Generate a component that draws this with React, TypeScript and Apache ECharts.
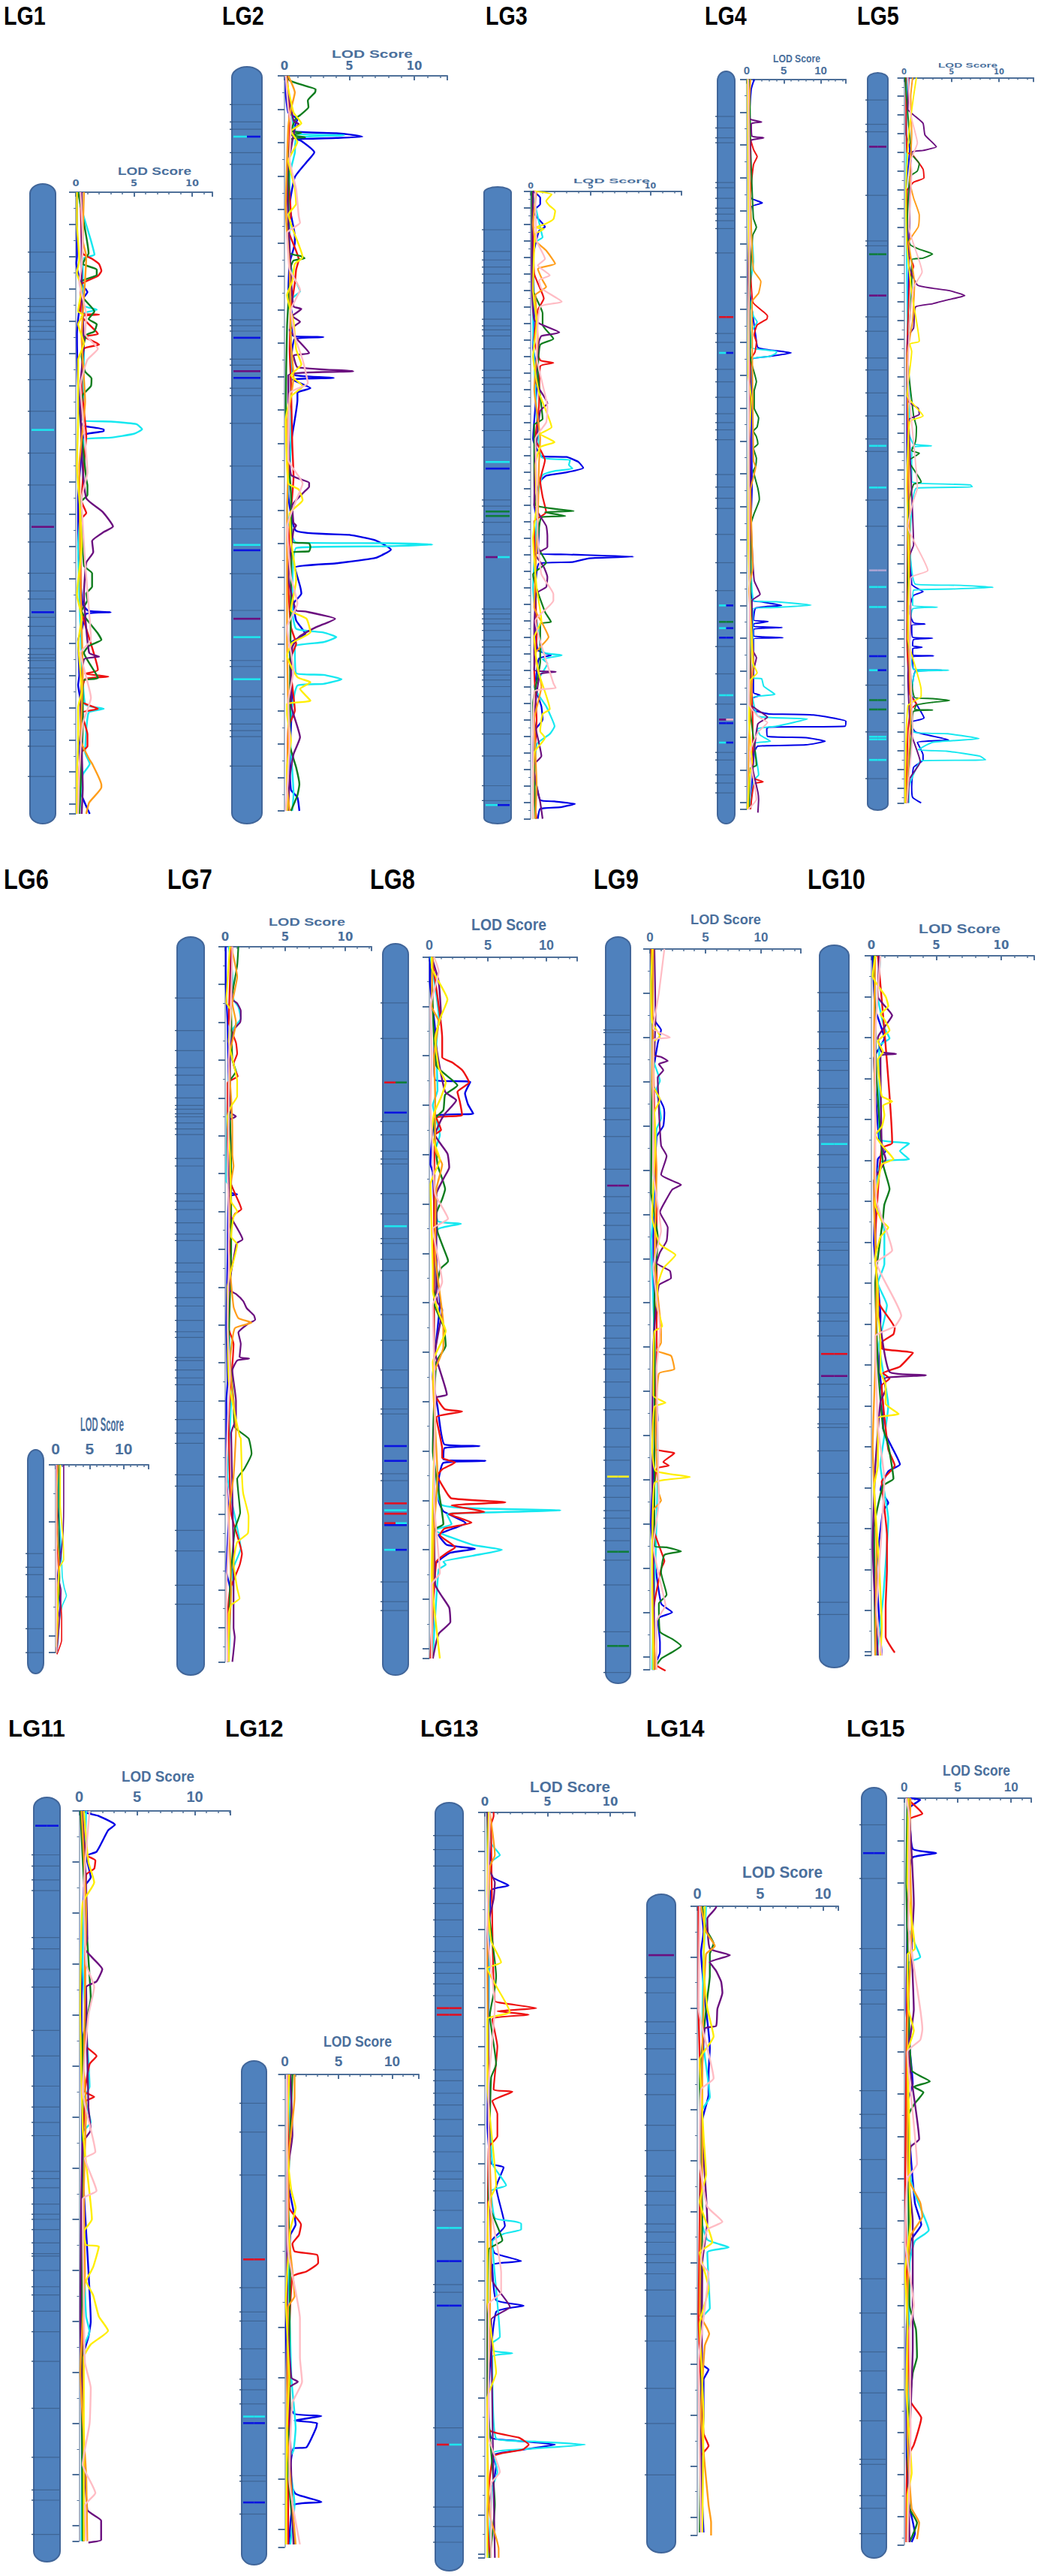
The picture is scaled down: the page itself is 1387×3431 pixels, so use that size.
import React, { useEffect, useRef } from "react";
import * as echarts from "echarts";

type P = [number, number]; // [position, LOD]
type B = [number, string, string?];

const lg1Blue: P[] = [[0,.1],[20,.1],[22,.05],[28,.4],[31,1],[34,.4],[44,.1],[60,.2],[71,.4],[72.5,.6],[73.6,2.4],[74.2,2.4],[75.4,.7],[85,.4],[95,.2],[110,.2],[128,.6],[130,1.1],[130.4,3],[130.9,.9],[136,.5],[139,.2],[150,.3],[153,.2],[162,.6],[172,.3],[187,.5],[193,1.2]];
const lg1Cyan: P[] = [[0,.3],[4,.4],[15,1.3],[19.4,1.6],[20.7,.6],[35,.6],[36.5,1.8],[37.8,.6],[50,.7],[70.8,.6],[71.2,3],[72,5.2],[73.6,5.7],[75,5],[76.2,3],[76.8,.7],[90,.6],[110,.2],[135,.4],[159,.8],[160.4,2.4],[161.6,1.1],[174,.8],[177.5,1.2],[180.8,.6],[193,.3]];
const lg1Red: P[] = [[0,.4],[19,.6],[20.7,1.4],[22.3,2],[24.4,2.2],[26,1.9],[28.6,.5],[37.6,.4],[38,2],[38.6,.5],[44,1.9],[44.8,.7],[47.3,2],[48.6,.7],[60,.5],[75.8,.9],[80,.8],[96,.5],[99.6,.9],[101.7,.4],[130,.5],[148.3,1.9],[149.5,.8],[150.4,2.8],[151.2,.8],[158,.4],[160.4,1.9],[161.6,.5],[168.3,1],[172,1],[174.2,.4],[193,.2]];
const lg1Green: P[] = [[0,.2],[5.7,.5],[19,1.1],[20.7,.8],[22.3,.6],[24,1.8],[25.7,1.8],[27.7,.5],[32,.5],[37,1.6],[39.4,1.1],[41,1.8],[43.2,1.6],[44.4,.9],[51,.5],[55.7,.8],[57.8,1.35],[60.2,1.3],[63,.6],[70,.4],[89,.9],[91,1],[94,1],[96,.5],[116,.7],[118.3,1.4],[122.5,1.4],[124.6,.9],[126.7,1],[130,.5],[137,1.9],[139,2.2],[140.8,1.15],[143,.7],[150.8,1.9],[151.7,.6],[165,.6],[193,.3]];
const lg1Purple: P[] = [[0,.5],[30,.5],[47,.7],[60,.4],[80,.5],[95,.9],[99.2,2.3],[103.8,3.2],[105.5,2.4],[108.3,1.4],[111.7,1.5],[115,.9],[125,.7],[143,1.15],[144.2,2],[145,.7],[160,.4],[185,.6],[193,.5]];
const lg1Orange: P[] = [[0,.7],[15,.6],[20,.9],[45,.5],[65,.8],[85,.3],[120,.4],[150,.6],[170,.4],[176,1.15],[177.4,1.4],[184,2.2],[184.8,2.2],[189.5,1.15],[193,.9]];
const lg1Yellow: P[] = [[0,.1],[10,.1],[21,.3],[25,.1],[30,.5],[37,.2],[38,.6],[41,.2],[47,.7],[52,.2],[70,.2],[85,.1],[100,.4],[110,.5],[125,.1],[132,.5],[140,.2],[149,.4],[155,.5],[160,.2],[172,.2],[180,.1],[193,.1]];
const lg1Pink: P[] = [[0,.4],[15,.6],[23,.5],[28,.3],[38,.9],[44,.8],[48.6,1.9],[52,1],[60,.4],[87,1],[95,.5],[115,.8],[139,1.3],[143,.4],[157,1.3],[165,.6],[180,.3],[193,.2]];

const lg2Blue: P[] = [[0,.1],[5,.1],[11,.3],[13,1],[15,.8],[16.6,.6],[17.2,4],[17.6,5.1],[18.2,6],[18.6,4],[19,.9],[19.5,1.3],[22.9,2.3],[25.4,1.8],[30.3,.8],[39,.4],[48,.8],[50,.8],[56,.4],[65,.3],[72,.6],[77.7,.6],[78.2,3],[78.7,.8],[86,.5],[89.6,.8],[90.4,3.8],[90.9,.6],[93.5,2],[94.8,1],[97,1],[110,.5],[125,.3],[136.2,.9],[137.4,5],[139,7],[141.8,8.2],[144.3,7],[145.9,4],[147.2,.8],[152.7,1.2],[155,1.3],[158,.7],[163,.9],[167,1.6],[170,.4],[185,.6],[205,.4],[213.7,.5],[216,1],[220,1.15]];
const lg2Cyan: P[] = [[0,.1],[15,.7],[17.4,1],[17.8,4.6],[18.6,.9],[23,.8],[30,.4],[55,.4],[60,.7],[64.5,1.2],[67,.5],[86,.5],[110,.5],[130,.2],[139.7,.9],[139.9,8],[140.3,11.4],[140.8,8],[141.3,.9],[160,.6],[165.5,.9],[166.6,3],[168,4],[169.5,3],[170.8,.8],[178.8,.9],[179.3,3],[180.6,4.4],[182,3],[182.5,1],[195,.4],[215,.7],[220,.6]];
const lg2Red: P[] = [[0,.2],[15,.4],[30,.3],[42,.5],[45,.2],[55,1.1],[58,.9],[62,.8],[70,.5],[82,.4],[92,.5],[110,.6],[120,.7],[135,.4],[152,.3],[165,.5],[170,.9],[175,.4],[190,.8],[195,.3],[220,.2]];
const lg2Green: P[] = [[0,.3],[1.4,.4],[3,1.6],[4,2.4],[5,2.35],[7.4,1.8],[9.4,1.85],[11.8,1.2],[12.6,.9],[16.5,.5],[17,1.3],[17.8,.5],[18.4,1.6],[19,.5],[35,.3],[53,.4],[54,1.3],[54.6,1.55],[55.3,.7],[57,.5],[75,.2],[100,.1],[125,.5],[139.5,.6],[139.9,1.9],[141,2],[142.3,1.9],[142.7,.6],[155,.5],[200,.4],[207,.9],[212,1.15],[215.3,1],[220,.5]];
const lg2Purple: P[] = [[0,.1],[13.4,.7],[14.5,1.1],[15.8,.8],[30,.2],[60,.5],[69,.7],[69.8,1.3],[71.9,.6],[73.6,1.2],[76,.4],[83,1.9],[83.7,.7],[87.2,1],[88.4,5.3],[89.6,.3],[100,.3],[119.4,.5],[121.8,1.9],[123,1.9],[124.6,1.5],[128.6,.6],[133.8,.7],[134.6,.9],[135.8,.7],[150,.3],[160,.9],[160.3,1.6],[162.5,3.9],[165.1,2.4],[168,1.1],[171,.6],[188,.5],[198,1.2],[203,.7],[210,.4],[220,.3]];
const lg2Orange: P[] = [[0,.3],[5,.8],[10,.5],[15,.3],[25,.2],[40,.1],[58,.4],[80,.5],[90,.7],[105,.2],[115,.3],[130,.2],[155,.2],[170,.2],[195,.3],[212,.2],[220,.4]];
const lg2Yellow: P[] = [[0,.1],[11,.7],[14.2,1.3],[16.6,.5],[19.8,1],[25.4,.3],[33.5,.8],[38.3,.9],[41.5,.3],[45.5,.6],[54.3,1.4],[56.3,.8],[61.6,.6],[65.6,.2],[73.6,.7],[81.8,.9],[86.4,1.3],[89.6,.5],[92.9,1.4],[96,.5],[103,.1],[122,.3],[123.8,1.1],[127,1.4],[131,.4],[139,.5],[147,.8],[151,.9],[160,.5],[162.5,1.7],[166.5,2],[169.7,.6],[173.6,.2],[180,1],[181.5,2],[183.5,1.2],[187,2],[188,.2],[191,.2],[199,.5],[207,.2],[220,.2]];
const lg2Pink: P[] = [[0,.1],[10,.3],[14,.5],[25,.4],[34,.9],[42,1.1],[44,1.2],[47,.2],[58,.4],[64,1.2],[70,.5],[78,.8],[85,1.4],[92,1.8],[95,.4],[115,.3],[122,1.4],[127,.9],[135,.2],[150,.5],[158,1],[165,.2],[178,.7],[187,.3],[200,.4],[220,.1]];

const lg3Blue: P[] = [[0,.2],[4,.8],[8,.8],[12,.2],[16.5,.6],[21.7,1.2],[24,.7],[40,.2],[75,.3],[95,.2],[110,.6],[130,.4],[150,.2],[160.5,.9],[161,3],[164,4],[167.6,4.4],[170.3,3],[172.3,1.3],[175.6,.8],[190,.3],[205,.7],[219.3,.6],[220,3],[221.3,8.6],[222.3,4.9],[224.6,3.5],[225.5,.7],[240,.4],[262,.4],[278,.6],[281,1.7],[283,.7],[300,.4],[312,.9],[320,1],[327,.3],[345,.2],[368.7,.8],[369.5,2],[371,3.7],[373,2.5],[374,.8],[380,.6]];
const lg3Cyan: P[] = [[0,.1],[25,.9],[28,1],[32,.2],[80,.2],[120,.4],[161,.9],[162.8,3.3],[165.8,3.2],[168,3.5],[169.5,2],[172,1],[185,.6],[200,.5],[240,.2],[279,1],[281,2.6],[283.4,1],[286,1.4],[300,.3],[312,1.3],[316.6,1.6],[324,2],[328.7,1.6],[335,.5],[380,.2]];
const lg3Red: P[] = [[0,.2],[50,.3],[65,1.1],[72,.6],[90,.3],[102.4,.8],[104,1.9],[106,.8],[130,.7],[150,.4],[162.8,1.2],[175,.8],[185,1],[194.4,1.3],[200,.3],[240,.4],[270,.5],[290,.3],[320,.5],[360,.2],[380,.5]];
const lg3Green: P[] = [[0,.1],[60,.2],[74,1],[81,1],[89.4,1.9],[93,.8],[110,.6],[138,1],[141.5,.3],[170,.3],[190,.4],[193.7,3.6],[194.4,1.2],[196.7,2.9],[197.5,.9],[215,.6],[225,1.3],[232,.2],[254.8,1.2],[260.8,1.7],[262,.8],[285,.8],[310,.2],[380,.4]];
const lg3Purple: P[] = [[0,.2],[40,.1],[78,.3],[85.6,2.4],[87.7,.9],[91,.7],[115,.4],[128.5,1.4],[133,.8],[160,.4],[190,.3],[202.7,1.3],[208.8,1.4],[215.5,1.4],[220,.4],[227.6,1.1],[233.6,1.4],[239.7,1.3],[243.5,.5],[265,.3],[290,.3],[291,2.1],[292.5,.8],[320,.3],[342,.9],[348,.2],[370,.8],[380,1]];
const lg3Orange: P[] = [[0,.5],[20,.2],[30,.4],[36,1.3],[44,2.05],[47,.6],[54,1],[58,1.3],[63,.4],[90,.6],[120,.3],[150,.8],[165,.7],[200,.6],[230,.4],[252,.3],[262,1],[270,1.5],[280,.4],[300,.9],[320,.3],[360,.5],[380,.4]];
const lg3Yellow: P[] = [[0,.3],[2,1.75],[6,1.3],[9,1.6],[12,2.05],[17,1.9],[20,1.2],[22,.4],[23,1.1],[26,.4],[60,.2],[80,.5],[100,.2],[122,.7],[143,1.75],[147,.8],[152,2],[155,.8],[166,.4],[190,.5],[210,.2],[240,.5],[260,.9],[270,.3],[290,.6],[313.6,1.6],[316.6,1],[327,.8],[331,1.2],[340,.3],[380,.2]];
const lg3Pink: P[] = [[0,.4],[30,.5],[41,1.2],[45,.6],[51,1.6],[54,.7],[59,.9],[67,2.6],[70,.8],[100,.5],[131,1.4],[140,1.3],[150,.4],[175,.5],[210,.6],[232,.9],[244,1.9],[248,1.9],[260,.4],[298,1.9],[300.8,2.1],[303,.3],[380,.2]];

const lg4Blue: P[] = [[0,1],[3,.6],[13,.3],[33,.3],[36.2,.6],[37.6,2.1],[38.8,.6],[60,.2],[78,1.2],[81.6,1.5],[82.3,3],[83.2,6],[84.3,3],[85.3,.6],[124.4,.7],[150,.3],[158.5,.8],[158.9,2],[160,4.7],[160.8,1.2],[164.4,.9],[164.9,2.9],[165.6,.9],[166.4,.9],[166.7,4.8],[167.2,.9],[169.3,.9],[169.8,4.9],[170.2,.9],[186.5,.9],[187.3,1.8],[188.5,.5],[191.8,.9],[192.8,2.5],[193,3],[193.3,9],[195.2,13.4],[196.7,13.3],[197,3],[197.5,2.7],[199.8,2.8],[200.2,8],[201.3,10.6],[202.4,8],[202.8,1.5],[204.7,1],[222,.5]];
const lg4Cyan: P[] = [[0,.1],[45.8,.6],[51,.8],[55.4,.9],[65,.3],[72,.9],[73.8,1.4],[76.4,.7],[81.6,.6],[82.7,4],[83.2,4],[84.3,3],[85.1,.7],[110,.4],[158.5,.9],[158.9,4],[159.9,8.7],[160.6,4],[161,.8],[182,.8],[182.3,2],[184.6,2.3],[187,3.8],[188,.8],[193.7,1.5],[194.5,8.2],[196.7,4],[197.5,1.4],[199.4,1.8],[201.3,3.2],[202,1],[211.5,1.6],[213,1],[222,.4]];
const lg4Red: P[] = [[0,.3],[15,.2],[21.3,.9],[23.5,1.4],[26,.9],[40,.3],[67.7,.8],[72,2.8],[72.9,2.7],[74.7,1.4],[77.7,1],[80,1.3],[83,1.1],[85.3,.5],[120,.4],[170,.4],[195,.8],[212.3,.8],[213.6,2.2],[214.2,1],[222,.5]];
const lg4Green: P[] = [[0,.4],[20,.5],[42.3,.9],[45,1.3],[47.5,.8],[65,.4],[85,.5],[92,1.3],[94.8,1],[100,1],[103,1.6],[105.7,1.4],[107,.9],[108.7,1.3],[110.9,1.5],[112.2,.9],[115.3,1.3],[117.6,1.2],[119,.9],[124.4,1.5],[127.8,1.7],[132,1],[135,.6],[190,.4],[208.6,1.3],[209.5,.5],[222,.3]];
const lg4Purple: P[] = [[0,.2],[12,.4],[13,2],[13.5,.6],[17.3,.7],[17.8,2.3],[18.5,.6],[20.5,.5],[60,.2],[135.8,.6],[152.4,1],[156.6,1.8],[158.5,.7],[164.6,.7],[173.6,.8],[175.9,1.3],[179.7,.9],[190,.5],[194,2.8],[196,1.5],[204,1],[207,.6],[216.8,1.5],[219,1.6],[223,1.5]];
const lg4Orange: P[] = [[0,.5],[10,.3],[30,.4],[58,.9],[61.5,1.9],[65,1.6],[67.7,.7],[116,.9],[118,1.2],[120,1],[125,.5],[148.6,.8],[155,.3],[177.4,.9],[180,.8],[200,.3],[222,.2]];
const lg4Yellow: P[] = [[0,.1],[30,.2],[60,.3],[90,.2],[97,.6],[110,.3],[140,.2],[177.4,.8],[180.5,1.4],[182.7,.5],[195,.3],[207.7,.7],[211.5,.4],[222,.1]];
const lg4Pink: P[] = [[0,.2],[45,.4],[70,.3],[120,.3],[160,.4],[190,.3],[193.7,1.5],[195.6,2.8],[198.6,1.5],[205,.4],[219,1.3],[222,.2]];

const lg5Blue: P[] = [[0,.4],[30,.2],[38,.6],[60,.2],[100,.5],[150,.3],[200,.3],[271,.8],[273,1.3],[275,2],[277,1],[285,.5],[291.6,1],[292.3,2.2],[293,.8],[299.4,.9],[299.9,3],[300.6,1],[304,.9],[304.7,1.9],[305.5,.9],[309,.9],[309.3,3.1],[310,.9],[316.5,1],[317,4],[317.6,1.2],[330,.8],[342.5,2.1],[345,.6],[350,1.2],[354.3,4.7],[355.6,1.4],[362.3,2],[365,2],[369,1],[379.6,.8],[385,.9],[388,1.8]];
const lg5Cyan: P[] = [[0,.3],[60,.2],[150,.4],[170,.6],[190,.5],[196,1],[197,2.9],[198,.8],[216,.8],[217,1.5],[217.9,7],[219,7.2],[219.6,1.3],[250,.6],[271,1.2],[271.6,6],[272.7,9.4],[273.6,5],[274.2,1],[282.3,.9],[283.3,3.5],[284.2,.9],[300,.6],[316.5,1],[317,4.7],[318,1.2],[330,.8],[350,1],[351,4.6],[353.6,7.9],[355.6,3],[359.6,1.5],[360.3,4.5],[363,8],[365,8.6],[365.4,1.8],[370.3,1.2],[380,.5],[388,.5]];
const lg5Red: P[] = [[0,.2],[40,.3],[41.4,.9],[49,2],[53.7,2.1],[56,1],[60.6,.3],[80,.3],[93.6,.4],[101,1],[107,.6],[150,.3],[200,.4],[300,.3],[330,.6],[335,1.3],[338,.7],[350,.4],[388,.2]];
const lg5Green: P[] = [[0,.1],[41,.8],[46,1.6],[50,1.4],[53,.6],[85,.3],[89.7,.7],[92,1.7],[94.4,3],[96.6,2],[97.4,.8],[110,.8],[150,.4],[181,1],[187,1.3],[194.8,1.2],[199.6,.8],[201,1.6],[205,.5],[216.3,1.8],[217.6,1],[230,.4],[300,.4],[331.6,1.1],[332.2,3],[333.2,4.8],[334.2,3],[335.6,1.3],[338,1.1],[338.3,3],[339,1],[351.6,.8],[356.9,.7],[388,.2]];
const lg5Purple: P[] = [[0,.5],[17,.4],[20,1],[24.5,2],[30.7,2.2],[34.8,3],[37,3.4],[39,2],[40,.8],[70,.6],[100,.5],[111,1.4],[112.7,3],[114,4.8],[116.6,6.4],[119,4.5],[121,3],[122.7,1.2],[134,1],[138.6,.4],[173,.4],[177,1.5],[180.2,1.6],[183,.5],[250,1],[255.6,.6],[290,.7],[320,.4],[350,.7],[366,1.7],[375,.6],[388,.4]];
const lg5Orange: P[] = [[0,.9],[10,.7],[30,.8],[55,.6],[64.4,1],[73.6,1.6],[79.8,1.5],[84.4,.9],[88,.5],[110,1.1],[130,.9],[150,.3],[200,.5],[250,.6],[290,.4],[340,.7],[388,.2]];
const lg5Yellow: P[] = [[0,1.3],[10,1],[30,.5],[60,.2],[90,.3],[115,.8],[141,1.6],[142.5,.6],[146.5,.8],[170,.3],[181,2],[184,.6],[220,.3],[270,.5],[300,.4],[327.6,1.8],[331,1.8],[336,.4],[388,.1]];
const lg5Pink: P[] = [[0,.4],[20,.7],[35,1.4],[44.5,.7],[50,.8],[80,.5],[104,1.9],[112,1],[130,.6],[160,.4],[219.6,1.4],[226,1],[240,.4],[263.6,2.5],[267.6,.7],[300,.6],[350,.9],[375,.5],[388,.3]];

const lg6Blue: P[] = [[0,.1],[2,.1],[15,.7],[19.7,.3],[24.7,.7],[27,.4],[33,.1]];
const lg6Cyan: P[] = [[0,.3],[7,.4],[12,.7],[17,.9],[19.7,1],[21.7,1.3],[23,1.6],[24.7,1],[27,.6],[30,.4],[33,.2]];
const lg6Red: P[] = [[0,.2],[14.6,.3],[19.7,.5],[27,.9],[30.8,.9],[33.3,.2]];
const lg6Green: P[] = [[0,.5],[12,.5],[19.7,.6],[27,.3],[33,.2]];
const lg6Purple: P[] = [[0,1.2],[7,1.2],[12,1.1],[16,.8],[19.7,.4],[22,.8],[27,.6],[33,.2]];
const lg6Orange: P[] = [[0,.4],[4.5,.2],[12,.2],[17,.5],[22,.3],[27,.4],[33,.1]];
const lg6Yellow: P[] = [[0,.7],[7,.7],[13,1.1],[16.7,1.2],[18,.6],[22,.4],[32,.1]];
const lg6Pink: P[] = [[0,.1],[22,.1],[30,.1],[33,.2]];

const lg7Blue: P[] = [[0,.05],[10,.05],[20,.2],[40,.3],[55,.5],[60,.2],[65,.5],[65.5,1],[66,.3],[82,.2],[100,.1],[115,.2],[120,.1],[140,.1],[150,.3],[165,.1],[169.6,.4],[189,.2]];
const lg7Cyan: P[] = [[0,.3],[7,.6],[14,.7],[16,1.1],[19,1.3],[22,.6],[40,.2],[62,.1],[64,.5],[90,.4],[97,.3],[120,.5],[140,.2],[152,.9],[159,1.3],[165,.6],[189,.3]];
const lg7Red: P[] = [[0,.5],[20,.3],[25.4,.9],[28.3,1],[31,.7],[32.3,.8],[34.3,1.05],[36,.2],[60,.2],[68,1.2],[69.4,1.35],[70.7,.8],[75,.3],[83,.5],[100,.2],[105,.7],[125,.3],[150,.5],[160.5,1.4],[163.5,1.2],[170,.4],[178,.2],[189,.2]];
const lg7Green: P[] = [[0,1.1],[5,1],[15,.5],[30,.6],[33,.9],[36,.3],[55,.5],[80,.5],[105,.3],[120,.7],[127,.8],[130,1.95],[134,2.2],[138,1.6],[140.7,1],[144.5,1.1],[149.6,1.25],[154,.8],[170,.4],[189,.3]];
const lg7Purple: P[] = [[0,.6],[7,.5],[14,.6],[15,1],[17,1.3],[18.5,1.3],[20,1.25],[21.7,.8],[27,.4],[44,.5],[44.9,.9],[46,.3],[70,.3],[77.4,1.45],[78.3,1],[79,.9],[90.6,.3],[91.8,.9],[93.7,1.5],[95.6,1.8],[97.5,2.4],[98.6,2.5],[99.7,1.9],[102,1.1],[105,1.3],[108.5,1.2],[108.9,2],[109.4,1],[112,.6],[120,.9],[124.7,.9],[128.6,.5],[161,.7],[180,.7],[182.5,.8],[189,.6]];
const lg7Orange: P[] = [[0,.5],[8,1],[15,.6],[20,.9],[30,.3],[40,.5],[48,.6],[55,.6],[58,.7],[62,.5],[80,.3],[95.2,.7],[98.2,1.1],[99.4,2.2],[100.9,.8],[110,.4],[128,.9],[140,.7],[150,.3],[170,.5],[189,.2]];
const lg7Yellow: P[] = [[0,.4],[14.8,.1],[17,.5],[25,.3],[35.6,1],[39.6,1],[42.2,.5],[44.9,.2],[55,.4],[67.4,.5],[70,1],[71.4,.7],[76.7,.5],[78.7,1],[90,.2],[115,.3],[129.4,1.2],[130,1.3],[140,1.4],[144.5,1.5],[150.6,1.95],[155,1.9],[157.4,1],[162.8,.7],[169.6,1],[172.3,1.2],[174,.5],[176.4,.3],[189,.3]];
const lg7Pink: P[] = [[0,.6],[15,.5],[30,.3],[45,.3],[60,.2],[70,.3],[85,.3],[100,.2],[113,.4],[127,.2],[140,.1],[155,.3],[170,.1],[189,.2]];

const lg8Blue: P[] = [[0,.05],[5,.05],[15,.5],[20,.4],[24.9,.5],[25.3,3.5],[27.6,3.05],[29.8,3.3],[31.7,3.75],[32.1,.6],[42,.1],[43.6,.3],[62,.6],[70,.9],[85,.3],[91,.7],[98.7,1.3],[99,4.3],[99.4,1.3],[101.7,1.2],[102,4.8],[102.4,1.2],[106,.8],[110,.8],[112.2,1.2],[114.6,3.1],[117,.8],[119,1.5],[119.8,3.9],[120.6,1.8],[121.8,1],[123,.5],[142,.2]];
const lg8Cyan: P[] = [[0,.1],[12,.8],[18,.6],[27,.7],[30,.3],[36,.9],[40,.4],[53.4,.7],[54,2.7],[55.2,.7],[70,.4],[100,.4],[110.8,1],[111.6,4],[112,11.2],[112.5,4],[112.8,1.5],[114.8,1.9],[116,.5],[119,3.7],[120,6.2],[121.2,3.7],[122.4,1.2],[123,1.4],[124,.8],[142,.3]];
const lg8Red: P[] = [[0,.2],[16.5,1.1],[20.3,1.1],[21.4,2],[23,2.85],[25.4,3.4],[27.3,2.4],[29.2,2.6],[32,2.8],[32.5,.6],[35,1],[36,.5],[60,.4],[88,.4],[91.5,1.3],[92,2.8],[93.2,.6],[99.6,1.1],[101.4,1.1],[102.3,2.2],[103.7,1.1],[105,.7],[108.5,1.5],[109.6,1.9],[110.4,6.5],[111,1.9],[112.3,4.7],[112.8,1.7],[114.5,3.6],[115.7,1.3],[117,.9],[119.5,2.2],[120.6,1.5],[122.4,.6],[142,.1]];
const lg8Green: P[] = [[0,.2],[22,.6],[26,2.4],[27.9,1.35],[31,1.2],[33,.4],[42,.7],[47,1.35],[49,1.1],[52,.6],[55.6,.7],[61,1.55],[61.6,1.6],[63,1],[64.7,.8],[70,.4],[75,1.25],[78.7,1.4],[82,.6],[100,.3],[114.8,1.2],[116,.4],[142,.2]];
const lg8Purple: P[] = [[0,.2],[5,.8],[12,1],[16,.5],[27.3,1.35],[29,2.3],[31.7,1.35],[33,1],[36,.5],[39.8,1.55],[42.6,1.7],[44.7,1.25],[48,.6],[67.6,.6],[69.9,.7],[71.4,1.1],[80,.5],[88.6,1.5],[89.2,.6],[100,.4],[127,.5],[131.7,1.7],[134.6,1.8],[137,.8],[142,.3]];
const lg8Orange: P[] = [[0,.3],[10,.2],[13,.8],[20,.4],[28,.5],[39,.5],[42,1.1],[47,.6],[60,.5],[74.6,1.2],[79,1.2],[85,.3],[95,.5],[105,.7],[116,.4],[130,.3],[142,.2]];
const lg8Yellow: P[] = [[0,.2],[2,.2],[8.6,1.55],[12,1],[16.5,.5],[22.4,.8],[25.4,1.4],[28.4,1],[31.7,.4],[36,.2],[41,.9],[46,.1],[55,.2],[63.5,.3],[67.6,.3],[72,.8],[75.7,1.4],[82,.3],[92,.5],[110,.3],[125,.2],[142,.9]];
const lg8Pink: P[] = [[0,.4],[2.9,.8],[10,.1],[20,.2],[30,.1],[40,.3],[48,.5],[53,1.6],[55,.3],[65.8,1.1],[70.5,.3],[90,.5],[110,.4],[124.7,.9],[127,.2],[142,.2]];

const lg9Blue: P[] = [[0,.1],[15,.2],[16.5,.5],[18.3,1],[21.3,.7],[30,.2],[35.6,1.2],[37,1.3],[40,1.2],[42.5,.6],[65,.3],[95,.4],[106.5,.7],[109,.5],[130,.1],[148,1],[150,2],[151.4,.7],[156.8,.9],[159,.9],[163,.2]];
const lg9Cyan: P[] = [[0,.1],[25,.3],[29.8,.9],[31.6,.6],[38.3,1],[40.7,.6],[63,.2],[66,.1],[80,.3],[115,.7],[138,.5],[150,.3],[163,.2]];
const lg9Red: P[] = [[0,.1],[50,.5],[60,.6],[90,.6],[113,.5],[114,2.2],[116,1.2],[116.8,1.7],[117.5,.6],[130,.2],[136.2,1],[138.4,1.3],[140.2,1],[150,.3],[161.7,.5],[163.2,1.4]];
const lg9Green: P[] = [[0,.2],[25,.2],[55,.1],[65,.7],[80,.4],[135,.4],[135.3,1.5],[136.2,2.8],[137,1.3],[141,1],[146,1.5],[148,.8],[154.4,.9],[156,2],[157.6,2.8],[159,2],[160.5,1],[163,.3]];
const lg9Purple: P[] = [[0,.4],[15,.5],[24,.4],[24.4,1],[25.3,1.6],[26,.8],[27.4,1.2],[29,.7],[44.4,1],[46.8,1.5],[51,1],[52.4,2],[53.3,2.8],[54.4,2],[56.5,1.5],[59.5,.9],[63,1.6],[66,1.5],[68.6,.9],[71,.6],[72.8,1.8],[74.4,1.9],[76,.8],[90,.3],[120,.2],[135,.3],[160,.4],[163,.4]];
const lg9Orange: P[] = [[0,.3],[30,.2],[50,.6],[70,.4],[86.5,1],[89,1],[90.8,.6],[92,1.9],[95,2.2],[96,.8],[110,.5],[123,.8],[124.7,1],[127,.3],[145,.2],[163,.5]];
const lg9Yellow: P[] = [[0,.2],[8,.1],[16.5,.2],[19.8,.9],[21,.3],[31,.3],[34,.9],[37,.4],[42.4,.5],[60.7,.2],[66.8,.9],[69.2,2.3],[72.2,1.2],[76,.7],[80.5,.6],[85.3,1.1],[86.5,.4],[101,.3],[102.6,1.4],[103.5,.4],[113,.2],[118,.5],[119.4,3.6],[120.8,.4],[140,.2],[163,.3]];
const lg9Pink: P[] = [[0,1.3],[10,.8],[18,.3],[20,1.8],[20.6,.3],[40,.3],[50.4,.3],[63.8,1],[66,.8],[72,.3],[86,.9],[95,.6],[125,.8],[135,.3],[146,1.2],[148.4,1.4],[152,.6],[163,.6]];

const lg10Blue: P[] = [[0,.1],[13,.3],[20.2,1],[25,.2],[45,.6],[47.7,1.1],[49.7,.5],[70,.2],[88,.7],[100,.6],[110,.9],[115.4,.9],[119.6,1.5],[124.3,2.2],[126,1.3],[130.5,.7],[133.7,1.3],[135.7,.9],[150,.4],[171,.8]];
const lg10Cyan: P[] = [[0,.7],[10,.5],[17.6,1],[20.2,1.4],[22,.6],[40,.6],[45,.7],[45.9,2.9],[47.7,2.2],[49.7,2.9],[50.4,.7],[60,.4],[67.4,1],[69.4,1],[75.3,1],[80,.5],[85.4,1.2],[95,.6],[110,1.3],[124.6,.7],[137.6,1.3],[157,.9],[171,.4]];
const lg10Red: P[] = [[0,.5],[45.8,1.6],[47,.8],[70,.3],[85,.6],[91,1.8],[92.5,1.7],[94.5,.8],[96,.8],[97,3.2],[97.8,3],[100.4,2.2],[102,.9],[103.3,1.4],[105,.8],[120.6,1.3],[124.6,1.8],[128.5,.8],[141.6,1.2],[150,1.2],[159,1.1],[166.4,1.1],[170.3,1.8]];
const lg10Green: P[] = [[0,.2],[30,.4],[51,.9],[57,1.4],[60.8,1],[64,.9],[80,.3],[100,.5],[115.4,.9],[119.6,1.3],[127.8,1.7],[129.5,.9],[140,.2],[171,.3]];
const lg10Purple: P[] = [[0,.6],[10,.5],[14.6,1.6],[16.6,1.2],[20,.5],[23.5,.8],[24,1.9],[24.5,.7],[46.4,.8],[49.7,1.1],[55,.2],[85,.5],[101.7,1.4],[102.5,4.2],[103.3,1],[106,1.1],[109,.7],[125,.3],[144,.1],[171,.5]];
const lg10Orange: P[] = [[0,.3],[20,.2],[40,.3],[60,.2],[80,.4],[100,.3],[120,.1],[145,.4],[171,.3]];
const lg10Yellow: P[] = [[0,.3],[5,.1],[10,1.1],[12.3,1.3],[14.3,.7],[15.6,1],[18.2,1.4],[20.9,.5],[23.5,.9],[25.4,.5],[34.3,.8],[35.6,1.6],[36.6,.9],[38.9,1],[41.8,.8],[43.8,.3],[47,1],[49.7,1.7],[51,.8],[57.6,.4],[60.8,.3],[64.8,.8],[66.4,1.3],[68.7,.7],[74,.3],[82,.5],[88,.5],[89.9,.6],[95,.7],[101.7,.7],[105,1.1],[109.5,1.1],[112,2.1],[113,.5],[124.6,.5],[129.8,.2],[144,.5],[163.8,.8],[171,.7]];
const lg10Pink: P[] = [[0,.7],[20,.3],[45,.3],[60,.4],[72,1.6],[75,.4],[88,2.3],[90.6,1.8],[93,.3],[115,.5],[128,1],[140,.8],[160,.4],[171,.8]];

const lg11Blue: P[] = [[0,.3],[.5,.8],[1,1.7],[2.7,3.1],[3.8,2.5],[8,1.5],[8.8,.6],[13,1],[15,.4],[40,.2],[70,.3],[100,1],[103,.8],[108,.2],[143,.3]];
const lg11Cyan: P[] = [[0,.6],[30,.3],[54,.9],[56,.5],[61,1],[63,.3],[85,.4],[99,.6],[102,.9],[105,.4],[143,.2]];
const lg11Red: P[] = [[0,.2],[8.6,.6],[9.7,1.4],[11.3,1.3],[12.5,.6],[45.8,.5],[48,1.5],[49.6,.9],[55,.5],[56,1.3],[57,.5],[80,.2],[143,.4]];
const lg11Green: P[] = [[0,.1],[18,.5],[29,.8],[36.6,1],[45,.3],[75,.3],[100,.2],[143,.3]];
const lg11Purple: P[] = [[0,.3],[15,.6],[25,.7],[27,.5],[31,2],[33.4,1.5],[34.5,.6],[58,.8],[62.5,1],[65,.3],[100,.1],[136.9,.7],[139,1.9],[141.2,1.9],[142.8,1.9],[143.3,.8]];
const lg11Orange: P[] = [[0,.2],[20,.6],[50,.4],[58,.6],[75,.4],[90,.5],[110,.1],[130,.6],[143,.7]];
const lg11Yellow: P[] = [[0,.4],[10,.8],[14,1.3],[18,.3],[40,.1],[62,.3],[67,.5],[80,1.1],[82.4,.4],[85,.6],[85.3,1.7],[89.4,1.2],[92.1,.6],[94.8,1.2],[99,1.7],[101.8,2.5],[104.5,1],[107,.4],[143,.4]];
const lg11Pink: P[] = [[0,.9],[15,.4],[30,.6],[34.5,1.3],[40,.8],[55,.3],[66.8,1.4],[68,.5],[74.4,1.5],[76,.3],[108,.5],[113,1],[120,.9],[128,.3],[133.6,1.4],[136,.5],[143,.6]];

const lg12Blue: P[] = [[0,.4],[20,.2],[29.7,1],[31.8,.5],[50,.1],[65,.3],[67.2,.9],[67.6,3.4],[68.5,.9],[69,3],[70,2.9],[73.8,2],[74,.8],[80,.4],[83,1],[84.6,3.4],[85.2,.8],[93,.4]];
const lg12Cyan: P[] = [[0,.5],[20,.2],[60,.6],[70,1],[74.4,.8],[76,.4],[85,.9],[93,.5]];
const lg12Red: P[] = [[0,.3],[26.4,.4],[29.7,1.5],[31.8,1.3],[33.5,.7],[35,.9],[35.7,3],[37.3,3.1],[39,2],[40,.7],[60,.3],[93,.3]];
const lg12Green: P[] = [[0,.7],[25,.3],[37,.5],[55,.4],[68,.5],[75,.2],[93,.9]];
const lg12Purple: P[] = [[0,.5],[12,.7],[20,.2],[45,.2],[60,.6],[60.8,1.2],[62,.4],[80,.6],[93,.8]];
const lg12Orange: P[] = [[0,.9],[4.6,.9],[15,.4],[30,.3],[43.9,.9],[46,.3],[70,.2],[80,.5],[93,1]];
const lg12Yellow: P[] = [[0,.4],[15,.2],[23,.6],[26.4,1],[30.8,.5],[45,.1],[60,.4],[70,.2],[93,.1]];
const lg12Pink: P[] = [[0,.2],[20,.2],[35,.3],[48.3,1.4],[56,1.4],[60.8,1.6],[65,.7],[80,.4],[93,1.4]];

const lg13Blue: P[] = [[0,.2],[10,.4],[16.6,.6],[18.8,1.9],[20,.5],[50,.3],[80,.2],[90,.5],[91,1.5],[96,.9],[106,1.6],[110,.5],[113,.8],[115,2.9],[116,.6],[125,.9],[126.4,3.1],[128,.9],[150,.3],[160.2,.5],[161,2.5],[162,5.6],[163.3,3],[164.7,.6],[167.6,.9],[180,.2],[191,.3]];
const lg13Cyan: P[] = [[0,.3],[8,.5],[11,1.2],[13,.4],[60,.3],[90,.6],[95.6,1.7],[97,.5],[104,.8],[104.8,2.3],[105.4,2.9],[106.9,2.9],[108,1.5],[110,.6],[134.4,1.2],[136,.6],[138,.7],[138.6,2.2],[139.5,.6],[160.5,.9],[161.2,4],[162,8],[163,4],[164,.7],[169,1],[173,.6],[191,.3]];
const lg13Red: P[] = [[0,.7],[1,.7],[3.2,.5],[30,.6],[48.4,.8],[49,1.6],[50.2,4.1],[51,1],[51.9,3.5],[53,.6],[60,1],[71,.7],[71.6,2.2],[74,.6],[77.3,1],[83,1],[86,.3],[150,.2],[158.4,.4],[160.2,2.7],[162,3.5],[163.3,3],[165,.7],[180,.2],[191,.4]];
const lg13Green: P[] = [[0,.2],[25,.3],[42,.9],[45,.8],[52,.4],[64.6,.9],[68,.5],[100,.3],[109.7,1.4],[112,.3],[150,.2],[177.4,.8],[191,.4]];
const lg13Purple: P[] = [[0,.2],[15,.4],[18,.8],[22.3,.7],[30,.2],[90,.4],[120,.6],[126.7,2],[130,.5],[191,.8]];
const lg13Orange: P[] = [[0,.4],[11,.8],[14,.4],[40,.2],[80,.3],[100,.5],[130,.4],[160,.2],[180,.4],[188.7,1.1],[191,1.1]];
const lg13Yellow: P[] = [[0,.3],[20,.2],[33,.5],[38.5,1.3],[40,.2],[51.2,2],[53,.2],[70,.2],[95.6,.9],[100,.3],[125,.2],[143.6,.9],[150,.2],[191,.2]];
const lg13Pink: P[] = [[0,.4],[30,.2],[50,.8],[70,.3],[100,.4],[118,1.3],[123,1.3],[126,.3],[160,.3],[169,1.2],[172,.5],[191,.5]];

const lg14Blue: P[] = [[0,.3],[5,.5],[9,.3],[18,.6],[27.8,1],[33,.9],[37,.9],[42,.4],[60,.3],[90,.4],[91,.9],[93,.5],[100,.5],[110,.3],[123,.5]];
const lg14Cyan: P[] = [[0,.7],[10,.5],[25,.4],[37.5,1],[40,.4],[60,.2],[65.5,.8],[67,2.5],[68,.8],[79,1],[81,.3],[123,.4]];
const lg14Red: P[] = [[0,.1],[20,.1],[40,.3],[80,.1],[103.5,.5],[106,.9],[108,.3],[123,.3]];
const lg14Green: P[] = [[0,.4],[4.5,.7],[7.3,1.3],[9.4,1],[13.7,1],[18,.8],[30,.3],[35,.2],[60,.4],[123,.2]];
const lg14Purple: P[] = [[0,1.5],[.2,1.5],[2.4,.8],[8.3,1],[9.6,2.6],[11,1],[12.7,1.5],[14.8,1.9],[17,2],[20.2,1.6],[23.5,1.5],[24,.6],[40,.3],[62,.8],[70,.4],[123,.3]];
const lg14Orange: P[] = [[0,.3],[5,.7],[7.8,1.4],[9.4,.7],[30,.4],[49.5,.4],[60,.3],[80,.2],[83,.8],[84,.95],[86.3,.6],[100,.3],[117.6,.9],[121,1.1],[123.6,1.1]];
const lg14Yellow: P[] = [[0,.6],[12,.5],[20,.8],[25.6,1.3],[30,.2],[45,.5],[52.7,.7],[58,.2],[66,1.2],[68,.2],[75,.9],[82,.2],[100,.5],[123,.4]];
const lg14Pink: P[] = [[0,.2],[20,.1],[33.8,1.3],[36,.3],[50,.2],[59,.8],[62,2],[63.5,.8],[70,.3],[72,.9],[90,.1],[123,.3]];

const lg15Blue: P[] = [[0,.6],[.4,1.5],[2.3,.5],[12,.8],[13,3],[14,.8],[18,.4],[50,.2],[67.6,.8],[72,.3],[95.7,1],[100.9,1.6],[104.8,.6],[130,.2],[165,.3],[174,1],[176,.7]];
const lg15Cyan: P[] = [[0,.4],[30,.3],[37.6,1.5],[39,.4],[70,.2],[90,.6],[94.4,1.1],[102.2,2.3],[104.8,1],[110,.5],[176,.3]];
const lg15Red: P[] = [[0,.2],[3.7,1.7],[5,.5],[40,.3],[90,.1],[110,.2],[142.7,.6],[146.6,1.6],[153,.9],[156,.3],[176,.2]];
const lg15Green: P[] = [[0,.3],[20,.2],[45,.4],[64.4,.7],[67,2.4],[68.3,.9],[69.6,1.8],[72.2,1],[75,.4],[120,.5],[125.7,1.1],[132.2,1.2],[136,.8],[150,.3],[168,.5],[171.4,1.2],[176,.5]];
const lg15Purple: P[] = [[0,.4],[25,.9],[35,.7],[50,.9],[60,.4],[80.7,1.4],[82.5,.6],[92,.5],[100,.8],[130,.8],[160,.4],[176,.5]];
const lg15Orange: P[] = [[0,.6],[10,.5],[30,.7],[55,.3],[75,.3],[90,.4],[95.7,1.5],[99,1.7],[103.5,.6],[120,.3],[150,.3],[168,.7],[171.4,1.4],[175.3,1.2]];
const lg15Yellow: P[] = [[0,.4],[20,.3],[35.6,1],[37,.3],[50,.4],[55,.9],[60,.3],[80,.5],[91.8,.5],[100,.6],[112,.1],[125,.3],[140,.2],[159.7,.7],[165,.3],[176,.3]];
const lg15Pink: P[] = [[0,.2],[5,.5],[30,.4],[54.6,1.7],[57.2,1.5],[60,.3],[86.6,1.2],[90,.3],[105,.1],[120,.9],[126,.5],[150,.6],[176,.3]];

const lg1Marks = [18.6,24.8,33,35.5,37.3,39.8,41.7,43.2,45.7,50.4,58.2,68,81,90.9,99.9,108.6,118.3,123.8,126.3,132,134.8,137.7,141.7,143.5,144.6,145.4,147.7,149.6,151,153.6,157.9,163,167,172,181.4];
const lg2Marks = [8.6,13.8,16,23,26.5,36.8,44,48,56,62.5,68,73,74.8,76.4,84.8,86.6,93.5,95.7,104,116.8,127,132,135.6,149,160,175,176.8,185.8,189.6,194,196,197.8,206.6];
const lg3Marks = [23.4,36.5,41.7,46,50.3,55.6,67,77.6,81.6,84,87.7,95.5,108.5,113,117,121.5,127.6,135.4,145,155,187,190.7,200.5,208,212.5,253,256,259,262,266,272,276,281,285,290,293,296,300,306,315.8,328.7,342,360,369];
const lg4Marks = [11.3,14.8,17.8,19.3,31.4,33,36.2,39.2,41,43,45.4,52.8,77.3,80,88.2,92,96.7,101.7,104.4,106.6,109.6,120.2,124,127.4,130.5,138.4,147,155.5,172.5,180.8,190,204.7,207,211.5,214,217];
const lg5Marks = [12,25,29,63,87.4,90,128,135.7,150,156.4,168.7,181,193.3,200,226,240,300,325,350,375];
const lg6Marks = [15.6,18,19.3,23.2,28.8,33];
const lg7Marks = [13.6,22.2,27.5,32,34,36.6,40,42,43,44.2,45,46.6,48.2,49.7,56,58,65.3,67.3,69.5,73,76,77.7,83.6,86,88.9,92.8,95,98.8,101.8,103.3,108.6,109.4,111.9,114,115.8,120.2,125,128.6,131.3,139.6,142.6,154.3,159.7,168.8,173.8];
const lg8Marks = [9.3,16.5,33.3,36,39.3,40.9,41.9,47.9,52,57,58,61.2,63.5,68.7,72.4,77.6,83.6,87.2,91.5,92.5,104.6,106,126.5,130.5,132.3];
const lg9Marks = [15,18.3,18.9,21.6,24.4,26,31,36,38.6,42.4,49.8,56,59.7,62.5,65.7,70.8,78.7,82.3,85.2,88,90.3,91.7,95,97.9,101.4,104.2,108.4,112.6,115.6,121.4,124,127,128.7,131,133.8,138.2,143.8,154.4,163.6];
const lg10Marks = [9,13.5,18.6,22.7,25.6,28,32.4,36.4,37,39.5,41.8,43.8,48.6,51.7,55.5,58.2,62,66.6,70,72,75.6,83.4,87.3,89.3,92.9,104.7,107.8,110.8,114.4,115.3,121,126.5,132.3,138.6,141.9,143.7,147,158,161];
const lg11Marks = [8.6,10.8,13.5,15.6,24.8,27,31,34.5,43,48,53.9,58,61,63.6,70.6,72,73.8,77,79,80,82,84.6,86.7,87.2,90,93.2,94.8,98,102,107.8,117,126.6,133,135,141.7];
const lg12Marks = [5.7,11.4,19.9,42.2,47,48.8,54.3,60.3,62.4,65.2,79.4,80.5,87];
const lg13Marks = [6,9.6,13.8,19.5,23.4,27.6,31.9,35.7,38.5,41.3,44,47,57.5,66,68.8,72,75,78.7,83,87,92,94,97,102,121,123,157.7,178,183,187];
const lg14Marks = [14,17,22.7,25,28,33,37,43,48,53,56,58.7,62.4,64,66,68.4,70,72.2,75.4,80.5,85.4,94.7,101.6,111.7];
const lg15Marks = [6.3,19,35.6,41.5,45.4,48.7,56.5,69.2,74.8,78,85.5,93.3,101.8,113.7,121.8,131,135.5,140.7,147.3,156.4,157.6,165,168,174];

const lg1Bands: B[] = [[73.8,"cyan"],[103.9,"purple"],[130.4,"blue"]];
const lg2Bands: B[] = [[18.2,"cyan","blue"],[78.4,"blue"],[88.4,"purple"],[90.4,"blue"],[140.4,"cyan"],[142,"blue"],[162.5,"purple"],[168,"cyan"],[180.6,"cyan"]];
const lg3Bands: B[] = [[164,"cyan"],[168,"blue"],[194,"green"],[196.7,"green"],[221.6,"purple","cyan"],[371.7,"cyan","blue"]];
const lg4Bands: B[] = [[72.3,"red"],[83.2,"cyan","blue"],[160,"cyan","blue"],[165,"green"],[166.9,"cyan","blue"],[169.8,"blue"],[187.3,"cyan"],[194.7,"purple","pink"],[195.8,"blue"],[201.7,"cyan","blue"]];
const lg5Bands: B[] = [[37,"purple"],[94.5,"green"],[116.6,"purple"],[197,"cyan"],[219.3,"cyan"],[263.6,"lilac"],[272.5,"cyan"],[283.2,"cyan"],[309.5,"blue"],[317,"cyan","blue"],[333,"green"],[338,"green"],[352.6,"cyan"],[354,"cyan"],[365,"cyan"]];
const lg8Bands: B[] = [[25.4,"red","green"],[31.5,"blue"],[54.5,"cyan"],[99,"blue"],[102,"blue"],[110.6,"red"],[112,"cyan"],[112.7,"red"],[114.6,"red","cyan"],[115,"blue"],[120,"cyan","blue"]];
const lg9Bands: B[] = [[53.5,"purple"],[119.3,"yellow"],[136.3,"green"],[157.6,"green"]];
const lg10Bands: B[] = [[46,"cyan"],[97.3,"red"],[102.7,"purple"]];
const lg11Bands: B[] = [[2.9,"blue"]];
const lg12Bands: B[] = [[36.6,"red"],[67.7,"cyan"],[69,"blue"],[84.7,"blue"]];
const lg13Bands: B[] = [[50.2,"red"],[51.9,"red"],[106.5,"cyan"],[115,"blue"],[126.4,"blue"],[162,"red","cyan"]];
const lg14Bands: B[] = [[9.6,"purple"]];
const lg15Bands: B[] = [[13,"blue"]];

const tickLabels = [0, 5, 10];
const seriesColors = ["#0000e6", "#16e8f0", "#ee1111", "#0f7d1e", "#6b0f7f", "#ff9e1b", "#ffee00", "#ffbcc4"];
const palette: Record<string, string> = { blue: "#0a14e0", cyan: "#1ee6ee", red: "#e01122", green: "#0f7d3a", purple: "#6b0f7f", yellow: "#ffee22", pink: "#f0b0c0", lilac: "#a9a4d4" };

const DJ = '"DejaVu Sans"', LS = '"Liberation Sans"', LN = '"Liberation Sans Narrow","Liberation Sans"';

// t: title, tx/ty: its position; b0,b1,bt,bb: chromosome box; ay,x0,ppl,end: LOD axis; tp,yMax: position axis;
// n: LOD Score caption box; lf,ls,lm: tick label font, size, gap
const panels: any[] = [
  { t: "LG1", tx: 5, ty: 21, ts: 35, tsx: .82, b0: 40, b1: 74, bt: 245, bb: 1097, ay: 256, x0: 101, ppl: 15.5, end: 283, tp: 42.9, yMax: 193, n: [157, 255, 222, 233], lf: DJ, ls: 13, lm: 6, w: 2.4, lines: [lg1Blue, lg1Cyan, lg1Red, lg1Green, lg1Purple, lg1Orange, lg1Yellow, lg1Pink], marks: lg1Marks, bands: lg1Bands },
  { t: "LG2", tx: 296, ty: 21, ts: 35, tsx: .82, b0: 309, b1: 349, bt: 89, bb: 1097, ay: 101, x0: 379, ppl: 17.3, end: 596, tp: 44.5, yMax: 220, n: [442, 550, 66, 77], lf: DJ, ls: 15, lm: 6, w: 2.4, lines: [lg2Blue, lg2Cyan, lg2Red, lg2Green, lg2Purple, lg2Orange, lg2Yellow, lg2Pink], marks: lg2Marks, bands: lg2Bands },
  { t: "LG3", tx: 647, ty: 21, ts: 35, tsx: .82, b0: 645, b1: 681, bt: 249, bb: 1097, ay: 254.5, x0: 707, ppl: 15.95, end: 908, tp: 22, yMax: 380, n: [764, 866, 237, 244], lf: DJ, ls: 11, lm: 2, w: 2.2, lines: [lg3Blue, lg3Cyan, lg3Red, lg3Green, lg3Purple, lg3Orange, lg3Yellow, lg3Pink], marks: lg3Marks, bands: lg3Bands },
  { t: "LG4", tx: 939, ty: 21, ts: 35, tsx: .82, b0: 956, b1: 979, bt: 95, bb: 1097, ay: 105.6, x0: 995, ppl: 9.85, end: 1127, tp: 43.8, yMax: 222, n: [1030, 1093, 72, 83], lf: LN, ls: 15, lm: 5, w: 2, lines: [lg4Blue, lg4Cyan, lg4Red, lg4Green, lg4Purple, lg4Orange, lg4Yellow, lg4Pink], marks: lg4Marks, bands: lg4Bands },
  { t: "LG5", tx: 1142, ty: 21, ts: 35, tsx: .82, b0: 1156, b1: 1183, bt: 97, bb: 1079, ay: 103.3, x0: 1204.6, ppl: 12.63, end: 1377, tp: 24.9, yMax: 388, n: [1250, 1329, 84, 90], lf: DJ, ls: 10, lm: 3, w: 1.9, lines: [lg5Blue, lg5Cyan, lg5Red, lg5Green, lg5Purple, lg5Orange, lg5Yellow, lg5Pink], marks: lg5Marks, bands: lg5Bands },
  { t: "LG6", tx: 5, ty: 1171, ts: 37, tsx: .83, b0: 37, b1: 58, bt: 1931, bb: 2229, ay: 1951, x0: 74, ppl: 9.07, end: 198, tp: 75.8, yMax: 33, n: [107, 165, 1888, 1906], lf: LN, ls: 21, lm: 11, w: 1.6, lines: [lg6Blue, lg6Cyan, lg6Red, lg6Green, lg6Purple, lg6Orange, lg6Yellow, lg6Pink], marks: lg6Marks, bands: [] },
  { t: "LG7", tx: 223, ty: 1171, ts: 37, tsx: .83, b0: 236, b1: 272, bt: 1248, bb: 2231, ay: 1260.7, x0: 300, ppl: 16, end: 495, tp: 50.4, yMax: 189, n: [358, 460, 1222, 1233], lf: DJ, ls: 15, lm: 5, w: 2.2, lines: [lg7Blue, lg7Cyan, lg7Red, lg7Green, lg7Purple, lg7Orange, lg7Yellow, lg7Pink], marks: lg7Marks, bands: [] },
  { t: "LG8", tx: 493, ty: 1171, ts: 37, tsx: .83, b0: 510, b1: 544, bt: 1257, bb: 2231, ay: 1274.6, x0: 572, ppl: 15.6, end: 769, tp: 65.8, yMax: 142, n: [628, 728, 1223, 1239], lf: LS, ls: 18, lm: 7, w: 2.4, lines: [lg8Blue, lg8Cyan, lg8Red, lg8Green, lg8Purple, lg8Orange, lg8Yellow, lg8Pink], marks: lg8Marks, bands: lg8Bands },
  { t: "LG9", tx: 791, ty: 1171, ts: 37, tsx: .83, b0: 807, b1: 840, bt: 1248, bb: 2242, ay: 1264, x0: 866, ppl: 14.8, end: 1067, tp: 58.9, yMax: 163, n: [920, 1014, 1219, 1232], lf: LS, ls: 17, lm: 7, w: 2.2, lines: [lg9Blue, lg9Cyan, lg9Red, lg9Green, lg9Purple, lg9Orange, lg9Yellow, lg9Pink], marks: lg9Marks, bands: lg9Bands },
  { t: "LG10", tx: 1076, ty: 1171, ts: 37, tsx: .83, b0: 1092, b1: 1131, bt: 1259, bb: 2221, ay: 1273, x0: 1161, ppl: 17.3, end: 1378, tp: 54.5, yMax: 171, n: [1224, 1333, 1231, 1243], lf: DJ, ls: 15, lm: 7, w: 2.4, lines: [lg10Blue, lg10Cyan, lg10Red, lg10Green, lg10Purple, lg10Orange, lg10Yellow, lg10Pink], marks: lg10Marks, bands: lg10Bands },
  { t: "LG11", tx: 11, ty: 2302, ts: 31, tsx: 1, b0: 45, b1: 80, bt: 2394, bb: 3412, ay: 2412, x0: 105.5, ppl: 15.4, end: 307, tp: 68, yMax: 143, n: [162, 259, 2358, 2373], lf: LS, ls: 20, lm: 9, w: 2.4, lines: [lg11Blue, lg11Cyan, lg11Red, lg11Green, lg11Purple, lg11Orange, lg11Yellow, lg11Pink], marks: lg11Marks, bands: lg11Bands },
  { t: "LG12", tx: 300, ty: 2302, ts: 31, tsx: 1, b0: 322, b1: 355, bt: 2745, bb: 3416, ay: 2763, x0: 379.6, ppl: 14.3, end: 558, tp: 67.3, yMax: 93.5, n: [431, 522, 2711, 2726], lf: LS, ls: 19, lm: 8, w: 2.4, lines: [lg12Blue, lg12Cyan, lg12Red, lg12Green, lg12Purple, lg12Orange, lg12Yellow, lg12Pink], marks: lg12Marks, bands: lg12Bands },
  { t: "LG13", tx: 560, ty: 2302, ts: 31, tsx: 1, b0: 580, b1: 617, bt: 2401, bb: 3424, ay: 2413.6, x0: 646, ppl: 16.7, end: 846, tp: 52, yMax: 191, n: [706, 813, 2373, 2387], lf: DJ, ls: 15, lm: 6, w: 2.2, lines: [lg13Blue, lg13Cyan, lg13Red, lg13Green, lg13Purple, lg13Orange, lg13Yellow, lg13Pink], marks: lg13Marks, bands: lg13Bands },
  { t: "LG14", tx: 861, ty: 2302, ts: 31, tsx: 1, b0: 862, b1: 900, bt: 2523, bb: 3400, ay: 2539, x0: 929, ppl: 16.75, end: 1117, tp: 67.8, yMax: 123.6, n: [989, 1096, 2486, 2502], lf: LS, ls: 20, lm: 7, w: 2.4, lines: [lg14Blue, lg14Cyan, lg14Red, lg14Green, lg14Purple, lg14Orange, lg14Yellow, lg14Pink], marks: lg14Marks, bands: lg14Bands },
  { t: "LG15", tx: 1128, ty: 2302, ts: 31, tsx: 1, b0: 1148, b1: 1181, bt: 2381, bb: 3407, ay: 2395, x0: 1204.7, ppl: 14.25, end: 1374, tp: 56.3, yMax: 176.6, n: [1256, 1346, 2350, 2365], lf: LS, ls: 17, lm: 6, w: 2.4, lines: [lg15Blue, lg15Cyan, lg15Red, lg15Green, lg15Purple, lg15Orange, lg15Yellow, lg15Pink], marks: lg15Marks, bands: lg15Bands },
];

const AXIS = "#4f7099", LABEL = "#4a6f9c", BODY = "#4f81bd", EDGE = "#41669a", RULE = "#3f6594";

function buildOption() {
  const grid: any[] = [], xAxis: any[] = [], yAxis: any[] = [], series: any[] = [], graphic: any[] = [];
  panels.forEach((p) => {
    const plot = grid.length;
    const plotBottom = p.ay + (p.yMax / 10) * p.tp;
    grid.push({ left: p.x0, top: p.ay, width: p.end - p.x0, height: plotBottom - p.ay, containLabel: false });
    xAxis.push({
      gridIndex: plot, type: "value", position: "top", min: 0, max: (p.end - p.x0) / p.ppl, interval: 5,
      axisLine: { show: true, onZero: false, lineStyle: { color: AXIS, width: 2 } },
      axisTick: { show: true, inside: true, length: 6, lineStyle: { color: AXIS, width: 2 } },
      minorTick: { show: true, splitNumber: 5, length: 3, lineStyle: { color: AXIS, width: 1.5 } },
      splitLine: { show: false },
      axisLabel: { show: true, margin: p.lm, color: LABEL, fontWeight: "bold", fontFamily: p.lf, fontSize: p.ls, customValues: tickLabels },
    });
    yAxis.push({
      gridIndex: plot, type: "value", inverse: true, min: 0, max: p.yMax, interval: 10,
      axisLine: { show: true, onZero: false, lineStyle: { color: "#8a9cb4", width: 1.5 } },
      axisTick: { show: true, inside: false, length: 9, lineStyle: { color: AXIS, width: 2 } },
      minorTick: { show: true, splitNumber: 2, length: 3, lineStyle: { color: AXIS, width: 1 } },
      splitLine: { show: false }, axisLabel: { show: false },
    });
    (p.lines as P[][]).forEach((pts, k) => {
      series.push({
        type: "line", xAxisIndex: plot, yAxisIndex: plot, data: pts.map(([y, l]) => [l, y]),
        symbol: "none", smooth: 0.15, silent: true, clip: false, z: 3 + k * 0.01,
        lineStyle: { color: seriesColors[k], width: p.w }, animation: false,
      });
    });

    const barGrid = grid.length;
    grid.push({ left: p.b0, top: p.bt, width: p.b1 - p.b0, height: p.bb - p.bt, containLabel: false });
    xAxis.push({ gridIndex: barGrid, type: "value", show: false, min: 0, max: 1 });
    yAxis.push({ gridIndex: barGrid, type: "value", show: false, inverse: true, min: ((p.bt - p.ay) / p.tp) * 10, max: ((p.bb - p.ay) / p.tp) * 10 });
    const dome = Math.min(14, p.ay - p.bt + 2);
    series.push({
      type: "custom", xAxisIndex: barGrid, yAxisIndex: barGrid, silent: true, clip: false, z: 2, data: [[0.5, 0]], encode: { x: 0, y: 1 },
      renderItem: (params: any) => {
        const c = params.coordSys; const x0 = c.x, x1 = c.x + c.width, y0 = c.y, y1 = c.y + c.height, rx = c.width / 2;
        const d = `M${x0} ${y0 + dome}A${rx} ${dome} 0 0 1 ${x1} ${y0 + dome}L${x1} ${y1 - dome}A${rx} ${dome} 0 0 1 ${x0} ${y1 - dome}Z`;
        return { type: "path", shape: { pathData: d }, style: { fill: BODY, stroke: EDGE, lineWidth: 2 } };
      },
    });
    const marks: number[] = p.marks;
    series.push({
      type: "custom", xAxisIndex: barGrid, yAxisIndex: barGrid, silent: true, clip: false, z: 2.1,
      data: marks.map((m) => [0.5, m]), encode: { x: 0, y: 1 },
      renderItem: (params: any, api: any) => {
        const c = params.coordSys; const y = api.coord([0.5, api.value(1)])[1];
        return { type: "group", children: [
          { type: "line", shape: { x1: c.x + 1, y1: y, x2: c.x + c.width - 1, y2: y }, style: { stroke: RULE, lineWidth: 1.2 } },
          { type: "line", shape: { x1: c.x - 3, y1: y, x2: c.x + 1, y2: y }, style: { stroke: "#34557f", lineWidth: 1.4 } },
        ] };
      },
    });
    const bands: B[] = p.bands;
    series.push({
      type: "custom", xAxisIndex: barGrid, yAxisIndex: barGrid, silent: true, clip: false, z: 2.2,
      data: bands.map((b) => [0.5, b[0]]), encode: { x: 0, y: 1 },
      renderItem: (params: any, api: any) => {
        const c = params.coordSys; const y = api.coord([0.5, api.value(1)])[1]; const b = bands[params.dataIndex];
        const mid = c.x + c.width / 2, l = palette[b[1]], r = palette[b[2] || b[1]];
        return { type: "group", children: [
          { type: "line", shape: { x1: c.x + 2, y1: y, x2: mid, y2: y }, style: { stroke: l, lineWidth: 2.6 } },
          { type: "line", shape: { x1: mid, y1: y, x2: c.x + c.width - 2, y2: y }, style: { stroke: r, lineWidth: 2.6 } },
        ] };
      },
    });

    graphic.push({ type: "text", x: p.tx, y: p.ty, scaleX: p.tsx, silent: true, style: { text: p.t, fill: "#000", font: `bold ${p.ts}px "Liberation Sans"`, textVerticalAlign: "middle" } });
    const [nx0, nx1, ny0, ny1] = p.n;
    const fs = Math.max(8, (ny1 - ny0) / 0.72);
    graphic.push({ type: "text", x: (nx0 + nx1) / 2, y: (ny0 + ny1) / 2, scaleX: (nx1 - nx0) / (5.17 * fs), silent: true, style: { text: "LOD Score", fill: LABEL, font: `bold ${fs}px "Liberation Sans"`, textAlign: "center", textVerticalAlign: "middle" } });
  });
  return { animation: false, backgroundColor: "#fff", grid, xAxis, yAxis, series, graphic };
}

export default function App() {
  const ref = useRef<HTMLDivElement>(null);
  useEffect(() => {
    document.body.style.margin = "0";
    const chart = echarts.init(ref.current!, undefined, { renderer: "svg" });
    chart.setOption(buildOption() as any);
    return () => chart.dispose();
  }, []);
  return <div ref={ref} style={{ width: 1387, height: 3431 }} />;
}
